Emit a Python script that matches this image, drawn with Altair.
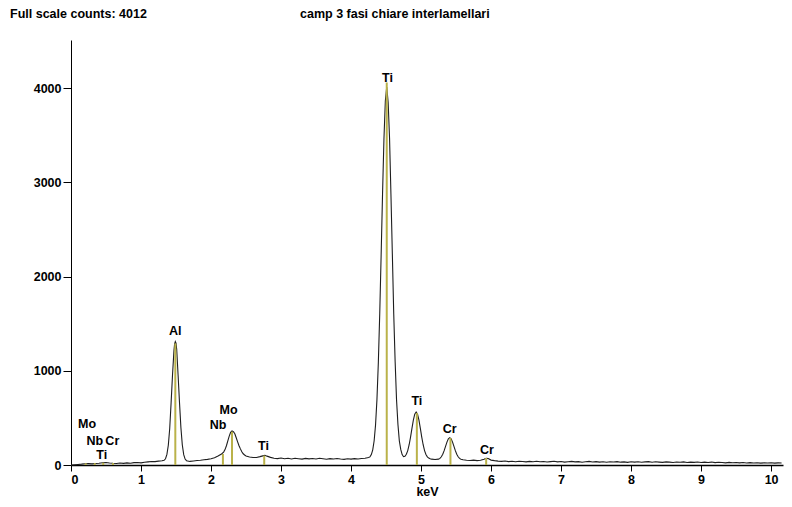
import altair as alt
import pandas as pd

# ---- spectrum (keV, counts) ----
energy_kev = [
    0.00, 0.05, 0.10, 0.15, 0.20, 0.25, 0.30, 0.35, 0.40, 0.45, 0.50, 0.55, 0.60, 0.65, 0.70, 0.75,
    0.80, 0.85, 0.90, 0.95, 1.00, 1.05, 1.10, 1.15, 1.20, 1.25, 1.30, 1.33, 1.35, 1.37, 1.39, 1.41,
    1.43, 1.45, 1.47, 1.48, 1.49, 1.50, 1.51, 1.53, 1.55, 1.57, 1.59, 1.61, 1.63, 1.65, 1.70, 1.75,
    1.80, 1.85, 1.90, 1.95, 2.00, 2.05, 2.10, 2.15, 2.18, 2.20, 2.22, 2.24, 2.26, 2.28, 2.30, 2.32,
    2.34, 2.36, 2.38, 2.40, 2.42, 2.44, 2.46, 2.48, 2.50, 2.55, 2.60, 2.65, 2.70, 2.74, 2.77, 2.80,
    2.85, 2.90, 2.95, 3.00, 3.05, 3.10, 3.15, 3.20, 3.25, 3.30, 3.35, 3.40, 3.45, 3.50, 3.55, 3.60,
    3.65, 3.70, 3.75, 3.80, 3.85, 3.90, 3.95, 4.00, 4.05, 4.10, 4.15, 4.20, 4.25, 4.27, 4.29, 4.31,
    4.33, 4.35, 4.37, 4.39, 4.41, 4.43, 4.45, 4.47, 4.49, 4.51, 4.53, 4.55, 4.57, 4.59, 4.61, 4.63,
    4.65, 4.67, 4.69, 4.71, 4.73, 4.75, 4.77, 4.79, 4.81, 4.83, 4.85, 4.87, 4.89, 4.91, 4.93, 4.95,
    4.97, 4.99, 5.01, 5.03, 5.05, 5.07, 5.09, 5.11, 5.13, 5.15, 5.20, 5.25, 5.27, 5.29, 5.31, 5.33,
    5.35, 5.37, 5.39, 5.41, 5.43, 5.45, 5.47, 5.49, 5.51, 5.53, 5.55, 5.57, 5.60, 5.65, 5.70, 5.75,
    5.80, 5.85, 5.90, 5.93, 5.96, 6.00, 6.05, 6.10, 6.15, 6.20, 6.25, 6.30, 6.35, 6.40, 6.45, 6.50,
    6.55, 6.60, 6.65, 6.70, 6.75, 6.80, 6.85, 6.90, 6.95, 7.00, 7.05, 7.10, 7.15, 7.20, 7.25, 7.30,
    7.35, 7.40, 7.45, 7.50, 7.55, 7.60, 7.65, 7.70, 7.75, 7.80, 7.85, 7.90, 7.95, 8.00, 8.05, 8.10,
    8.15, 8.20, 8.25, 8.30, 8.35, 8.40, 8.45, 8.50, 8.55, 8.60, 8.65, 8.70, 8.75, 8.80, 8.85, 8.90,
    8.95, 9.00, 9.05, 9.10, 9.15, 9.20, 9.25, 9.30, 9.35, 9.40, 9.45, 9.50, 9.55, 9.60, 9.65, 9.70,
    9.75, 9.80, 9.85, 9.90, 9.95, 10.00, 10.05, 10.10, 10.15,
]
counts = [
    0, 3, 6, 9, 13, 15, 12, 16, 19, 24, 27, 21, 18, 16, 21, 17,
    22, 19, 25, 27, 23, 29, 33, 37, 36, 41, 45, 50, 66, 112, 209, 388,
    662, 955, 1208, 1285, 1310, 1292, 1225, 950, 660, 395, 212, 110, 63, 46, 38, 43,
    47, 51, 56, 60, 67, 77, 96, 117, 137, 163, 204, 256, 306, 346, 362, 354,
    331, 289, 246, 204, 171, 141, 119, 106, 95, 85, 79, 80, 89, 97, 103, 94,
    81, 71, 68, 74, 66, 71, 64, 72, 67, 62, 70, 65, 69, 63, 71, 66,
    61, 68, 63, 69, 64, 60, 67, 62, 68, 64, 69, 71, 79, 86, 110, 161,
    257, 425, 694, 1088, 1609, 2231, 2877, 3460, 3862, 4012, 3850, 3470, 2870, 2240, 1600, 1095,
    690, 430, 255, 165, 110, 88, 92, 114, 153, 215, 296, 389, 476, 539, 562, 540,
    476, 389, 296, 215, 153, 111, 86, 73, 66, 62, 58, 62, 70, 87, 114, 152,
    198, 243, 277, 290, 277, 243, 198, 152, 114, 87, 70, 62, 55, 50, 47, 52,
    46, 50, 60, 71, 68, 52, 46, 41, 38, 42, 36, 39, 34, 40, 37, 33,
    38, 35, 40, 34, 37, 32, 36, 39, 33, 37, 31, 35, 38, 33, 36, 30,
    35, 38, 32, 36, 31, 34, 29, 35, 32, 36, 30, 33, 28, 34, 31, 35,
    29, 33, 36, 30, 34, 31, 28, 33, 30, 27, 32, 29, 33, 27, 31, 28,
    32, 26, 30, 27, 31, 25, 29, 26, 23, 28, 24, 27, 23, 26, 22, 25,
    21, 24, 20, 23, 21, 24, 20, 23, 21,
]

# ---- element marker lines ----
line_kev = [0.21, 0.34, 0.46, 0.60, 1.49, 2.17, 2.30, 2.76, 4.51, 4.94, 5.42, 5.93]
line_top = [18, 20, 24, 20, 1290, 117, 353, 100, 4060, 552, 286, 74]

# ---- element labels ----
label_text = ["Mo", "Nb", "Cr", "Ti", "Al", "Nb", "Mo", "Ti", "Ti", "Ti", "Cr", "Cr"]
label_kev = [0.23, 0.34, 0.59, 0.44, 1.49, 2.10, 2.25, 2.75, 4.52, 4.94, 5.41, 5.94]
label_counts = [435, 255, 255, 106, 1420, 424, 584, 200, 4111, 679, 387, 164]

# ---- texts ----
header_left = "Full scale counts: 4012"
header_center = "camp 3 fasi chiare interlamellari"
x_title = "keV"
x_ticks = [0, 1, 2, 3, 4, 5, 6, 7, 8, 9, 10]
y_ticks = [0, 1000, 2000, 3000, 4000]

FONT = "Liberation Sans"
FS = 12.5

spec = pd.DataFrame({"kev": energy_kev, "counts": counts})
lines = pd.DataFrame({"kev": line_kev, "top": line_top, "base": [0] * len(line_kev)})
labels = pd.DataFrame({"kev": label_kev, "counts": label_counts, "txt": label_text})

x_scale = alt.Scale(domain=[0, 10.17], nice=False, zero=False)
y_scale = alt.Scale(domain=[0, 4510], nice=False)

x_axis = alt.Axis(
    values=x_ticks, format="d", grid=False, title=x_title,
    labelFont=FONT, labelFontSize=FS, labelFontWeight="bold", labelColor="black",
    titleFont=FONT, titleFontSize=FS, titleFontWeight="bold", titleColor="black",
    tickColor="black", tickSize=6, domainColor="black", domainWidth=1.5,
    labelPadding=2, titlePadding=0,
)
y_axis = alt.Axis(
    values=y_ticks, format="d", grid=False, title=None,
    labelFont=FONT, labelFontSize=FS, labelFontWeight="bold", labelColor="black",
    tickColor="black", tickSize=8, domainColor="black", domainWidth=1,
    labelPadding=2,
)

spectrum = alt.Chart(spec).mark_line(color="#1e1e1e", strokeWidth=1.1).encode(
    x=alt.X("kev:Q", scale=x_scale, axis=x_axis),
    y=alt.Y("counts:Q", scale=y_scale, axis=y_axis),
)

markers = alt.Chart(lines).mark_rule(color="#bab24a", strokeWidth=2).encode(
    x=alt.X("kev:Q", scale=x_scale),
    y=alt.Y("top:Q", scale=y_scale),
    y2="base:Q",
)

peak_labels = alt.Chart(labels).mark_text(
    font=FONT, fontSize=FS, fontWeight="bold", color="black", align="center", baseline="middle"
).encode(
    x=alt.X("kev:Q", scale=x_scale),
    y=alt.Y("counts:Q", scale=y_scale),
    text="txt:N",
)

head_l = alt.Chart(pd.DataFrame({"t": [header_left]})).mark_text(
    font=FONT, fontSize=FS, fontWeight="bold", color="black", align="left", baseline="middle"
).encode(x=alt.value(-61), y=alt.value(-26), text="t:N")

head_c = alt.Chart(pd.DataFrame({"t": [header_center]})).mark_text(
    font=FONT, fontSize=FS, fontWeight="bold", color="black", align="left", baseline="middle"
).encode(x=alt.value(229), y=alt.value(-26), text="t:N")

chart = alt.layer(spectrum, markers, peak_labels, head_l, head_c).properties(
    width=712,
    height=425,
    padding={"left": 63, "top": 32, "right": 1, "bottom": 34},
    autosize=alt.AutoSizeParams(type="none"),
    background="white",
).configure_view(stroke="transparent")

chart.save("out.html", embed_options={"renderer": "svg", "actions": False})
